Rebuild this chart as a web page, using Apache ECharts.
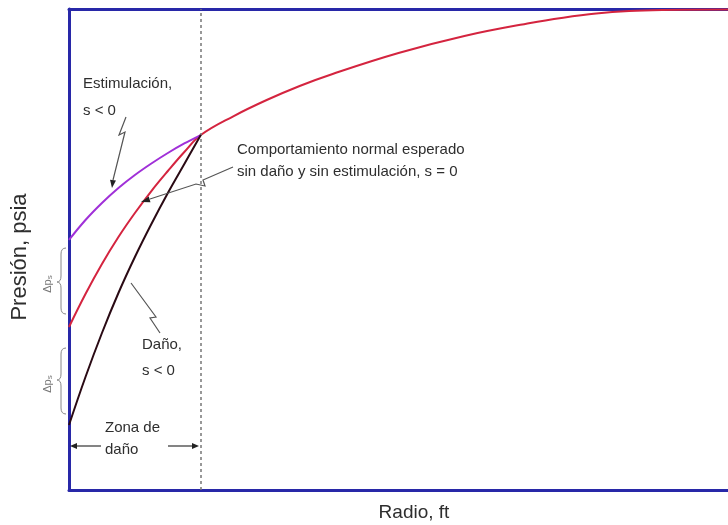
<!DOCTYPE html>
<html>
<head>
<meta charset="utf-8">
<script src="https://cdn.jsdelivr.net/npm/echarts@6/dist/echarts.min.js"></script>
<style>
html,body{margin:0;padding:0;background:#fff;}
#chart{width:728px;height:525px;}
</style>
</head>
<body>
<div id="chart"></div>
<script>
// Radio (arbitrary units, 0..100) and Presión (arbitrary units, 0..100)
const radioNormal = [0, 2.5, 5, 7.5, 10, 12.5, 15, 17.5, 20, 25, 30, 35, 40, 50, 60, 70, 75, 80, 85, 90, 100];
const presionNormal = [33.9, 40.75, 46.99, 52.6, 57.59, 62.16, 66.32, 70.27, 73.8, 77.75, 81.08, 84.0, 86.5, 90.85, 94.4, 97.1, 98.2, 99.06, 99.58, 99.79, 99.9];

const radioEstim = [0, 2.5, 5, 7.5, 10, 12.5, 15, 17.5, 20];
const presionEstim = [51.98, 56.13, 59.67, 62.79, 65.49, 67.88, 70.06, 72.04, 73.8];

const radioDano = [0, 2.5, 5, 7.5, 10, 12.5, 15, 17.5, 20];
const presionDano = [13.51, 23.49, 32.64, 40.96, 48.44, 55.3, 61.75, 67.78, 73.8];

const zonaDanoLimite = 20;

const zip = (xs, ys) => xs.map((x, i) => [x, ys[i]]);

const chart = echarts.init(document.getElementById('chart'));
const blue = '#2828a8';
const txt = '#2e2e2e';
const lead = '#555';
const font = 'Liberation Sans, Arial, sans-serif';

function arrowHead(tipX, tipY, angle, len, w) {
  const bx = tipX - Math.cos(angle) * len, by = tipY - Math.sin(angle) * len;
  const px = -Math.sin(angle) * w, py = Math.cos(angle) * w;
  return { type: 'polygon', shape: { points: [[tipX, tipY], [bx + px, by + py], [bx - px, by - py]] }, style: { fill: '#222' }, z: 10 };
}
function poly(points, color, lw) {
  return { type: 'polyline', shape: { points }, style: { stroke: color || lead, lineWidth: lw || 1.2, fill: null }, z: 10 };
}
function text(x, y, s, size, extra) {
  return Object.assign({ type: 'text', x, y, style: { text: s, fill: txt, font: size + 'px ' + font, textVerticalAlign: 'middle' }, z: 10 }, extra || {});
}
function qcurve(x1, y1, cx, cy, x2, y2) {
  return { type: 'bezierCurve', shape: { x1, y1, x2, y2, cpx1: cx, cpy1: cy }, style: { stroke: '#888', lineWidth: 1, fill: null }, z: 10 };
}
function brace(xr, xm, xt, y0, yt, y1) {
  return [
    qcurve(xr, y0, xm, y0, xm, y0 + 6),
    poly([[xm, y0 + 6], [xm, yt - 6]], '#888', 1),
    qcurve(xm, yt - 6, xm, yt, xt, yt),
    qcurve(xt, yt, xm, yt, xm, yt + 6),
    poly([[xm, yt + 6], [xm, y1 - 6]], '#888', 1),
    qcurve(xm, y1 - 6, xm, y1, xr, y1)
  ];
}
function deltaLabel(x, y) {
  return { type: 'text', x, y, rotation: Math.PI / 2,
    style: { text: 'Δp{s|s}', rich: { s: { fontSize: 8, fill: '#777', padding: [4, 0, 0, 0] } }, fill: '#777', font: '11px ' + font, textAlign: 'center', textVerticalAlign: 'middle' }, z: 10 };
}

const option = {
  backgroundColor: '#fff',
  animation: false,
  grid: { left: 69, right: 0, top: 9, bottom: 35 },
  xAxis: [
    { type: 'value', min: 0, max: 100, position: 'bottom',
      axisLine: { show: true, onZero: false, lineStyle: { color: blue, width: 3 } },
      axisTick: { show: false }, axisLabel: { show: false }, splitLine: { show: false } },
    { type: 'value', min: 0, max: 100, position: 'top',
      axisLine: { show: true, onZero: false, lineStyle: { color: blue, width: 3 } },
      axisTick: { show: false }, axisLabel: { show: false }, splitLine: { show: false } }
  ],
  yAxis: {
    type: 'value', min: 0, max: 100,
    axisLine: { show: true, onZero: false, lineStyle: { color: blue, width: 3 } },
    axisTick: { show: false }, axisLabel: { show: false }, splitLine: { show: false }
  },
  series: [
    { type: 'line', name: 'Normal', data: zip(radioNormal, presionNormal), smooth: 0.4, symbol: 'none',
      lineStyle: { color: '#d4243f', width: 2 }, z: 3,
      markLine: { silent: true, symbol: 'none', label: { show: false },
        lineStyle: { color: '#777', type: [3, 3], width: 1.5 },
        data: [{ xAxis: zonaDanoLimite }] } },
    { type: 'line', name: 'Estimulación', data: zip(radioEstim, presionEstim), smooth: 0.4, symbol: 'none',
      lineStyle: { color: '#a030d8', width: 2 }, z: 4 },
    { type: 'line', name: 'Daño', data: zip(radioDano, presionDano), smooth: 0.4, symbol: 'none',
      lineStyle: { color: '#2a0a14', width: 2 }, z: 5 }
  ],
  graphic: [
    { type: 'text', x: 414, y: 513,
      style: { text: 'Radio, ft', fill: txt, font: '19px ' + font, textAlign: 'center', textVerticalAlign: 'middle' }, z: 10 },
    { type: 'text', x: 20, y: 257, rotation: Math.PI / 2,
      style: { text: 'Presión, psia', fill: txt, font: '22px ' + font, textAlign: 'center', textVerticalAlign: 'middle' }, z: 10 },
    text(83, 84, 'Estimulación,', 15),
    text(83, 111, 's < 0', 15),
    poly([[126, 117], [119, 135], [125, 132], [113, 180]]),
    arrowHead(112, 188, Math.atan2(8, -1), 8, 3),
    text(237, 150, 'Comportamiento normal esperado', 15),
    text(237, 172, 'sin daño y sin estimulación, s = 0', 15),
    poly([[233, 167], [203, 180], [205, 186], [196, 184], [150, 199]]),
    arrowHead(141, 202, Math.atan2(3, -10), 9, 3),
    text(142, 345, 'Daño,', 15),
    text(142, 371, 's < 0', 15),
    poly([[160, 333], [150, 318], [156, 317], [131, 283]]),
    text(105, 428, 'Zona de', 15),
    text(105, 450, 'daño', 15),
    poly([[101, 446], [76, 446]], '#333', 1.2),
    arrowHead(70, 446, Math.PI, 7, 3),
    poly([[168, 446], [192, 446]], '#333', 1.2),
    arrowHead(199, 446, 0, 7, 3),
    ...brace(66, 61, 57, 248, 282, 314),
    ...brace(66, 61, 57, 348, 380, 414),
    deltaLabel(48, 284),
    deltaLabel(48, 384)
  ]
};
chart.setOption(option);
</script>
</body>
</html>
